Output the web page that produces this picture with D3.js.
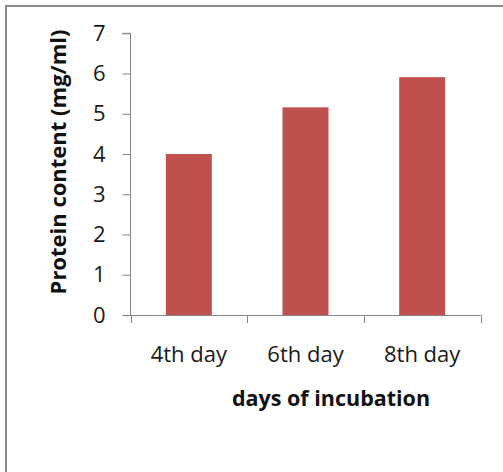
<!DOCTYPE html>
<html><head><meta charset="utf-8">
<script src="https://cdn.jsdelivr.net/npm/d3@7"></script>
<style>body{margin:0;background:#fff;}svg{display:block;}</style>
</head><body>
<script>
const categories = ["4th day", "6th day", "8th day"];
const values = [4.0, 5.16, 5.91];
const yTicks = [0, 1, 2, 3, 4, 5, 6, 7];
const xTitle = "days of incubation";
const yTitle = "Protein content (mg/ml)";

const W = 503, H = 472;
const svg = d3.select("body").append("svg").attr("width", W).attr("height", H);
svg.append("rect").attr("width", W).attr("height", H).attr("fill", "#fff");
// outer chart border (only top/left visible)
svg.append("rect").attr("x", 6).attr("y", 6).attr("width", 520).attr("height", 500)
  .attr("fill", "none").attr("stroke", "#8c8c8c").attr("stroke-width", 2);

const x0 = 130.5, x1 = 480.5, yTop = 33.3, yBot = 315;
const x = d3.scaleBand().domain(categories).range([x0, x1]).paddingInner(0.606).paddingOuter(0.303);
const y = d3.scaleLinear().domain([0, 7]).range([yBot, yTop]);

const font = "'Open Sans', sans-serif";

svg.selectAll("rect.bar").data(values).join("rect").attr("class", "bar")
  .attr("x", (d, i) => x(categories[i]))
  .attr("width", x.bandwidth())
  .attr("y", d => y(d))
  .attr("height", d => y(0) - y(d))
  .attr("fill", "#C0504D");

// y axis
const yAxis = svg.append("g").attr("transform", `translate(${x0},0)`)
  .call(d3.axisLeft(y).tickValues(yTicks).tickSize(8).tickPadding(17).tickFormat(d3.format("d")));
yAxis.select(".domain").attr("stroke", "#868686").attr("d", `M-8,${yTop}H0V${yBot}`);
yAxis.selectAll(".tick line").attr("stroke", "#868686");
yAxis.selectAll("text").attr("font-family", font).attr("font-size", 22).attr("fill", "#1a1a1a");

// x axis
const xAxisG = svg.append("g").attr("transform", `translate(0,${yBot})`);
xAxisG.append("line").attr("x1", x0 - 8).attr("x2", x1).attr("y1", 0.5).attr("y2", 0.5).attr("stroke", "#868686");
const bounds = [x0, ...categories.map(c => x(c) - x.step() * x.paddingInner() / 2 + x.step())];
xAxisG.selectAll("line.tk").data(bounds).join("line").attr("class", "tk")
  .attr("x1", d => Math.round(d) + 0.5).attr("x2", d => Math.round(d) + 0.5)
  .attr("y1", 0).attr("y2", 8).attr("stroke", "#868686");
xAxisG.selectAll("text").data(categories).join("text")
  .attr("x", d => x(d) + x.bandwidth() / 2).attr("y", 47)
  .attr("text-anchor", "middle").attr("font-family", font).attr("font-size", 22).attr("fill", "#1a1a1a")
  .text(d => d);

svg.append("text").attr("x", 331).attr("y", 406).attr("text-anchor", "middle")
  .attr("font-family", font).attr("font-size", 21.5).attr("font-weight", "bold").attr("fill", "#111")
  .text(xTitle);
svg.append("text").attr("transform", "translate(66,162) rotate(-90)").attr("text-anchor", "middle")
  .attr("font-family", font).attr("font-size", 22).attr("font-weight", "bold").attr("fill", "#111")
  .text(yTitle);
</script>
</body></html>
